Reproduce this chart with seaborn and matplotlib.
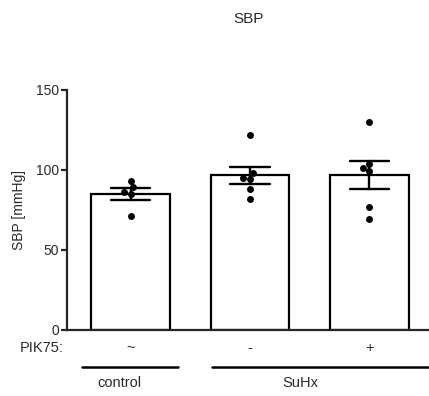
import pandas as pd
import matplotlib
matplotlib.use('Agg')
import matplotlib.pyplot as plt
import matplotlib.transforms as mtransforms
import seaborn as sns

# values
groups = ['control', 'SuHx -', 'SuHx +']
control_vals = [93, 89, 86, 85, 71]
suhx_vals = [122, 98, 95, 94, 88, 82]
suhx_pik_vals = [130, 103.5, 101, 99, 77, 69]
pik75_labels = ['~', '-', '+']
y_ticks = [0, 50, 100, 150]

df = pd.DataFrame({
    'group': [groups[0]] * len(control_vals) + [groups[1]] * len(suhx_vals) + [groups[2]] * len(suhx_pik_vals),
    'sbp': control_vals + suhx_vals + suhx_pik_vals,
})

sns.set_style('ticks')
plt.rcParams['font.family'] = ['Liberation Sans', 'DejaVu Sans']
txt_col = '#2b2b2b'

fig = plt.figure(figsize=(4.29, 3.96), dpi=100)
ax = fig.add_axes([0.157, 0.167, 0.843, 0.606])

sns.barplot(data=df, x='group', y='sbp', order=groups, errorbar='se', capsize=0.33,
            width=0.66, color='white', edgecolor='black', linewidth=1.6,
            err_kws={'color': 'black', 'linewidth': 1.7}, ax=ax)
sns.swarmplot(data=df, x='group', y='sbp', order=groups, color='black', size=5, ax=ax)

ax.set_ylim(0, 150)
ax.set_xlim(-0.53, 2.5)
ax.set_yticks(y_ticks)
ax.set_xticks([])
ax.set_xlabel('')
ax.set_ylabel('SBP [mmHg]', fontsize=10, color=txt_col, labelpad=7)
ax.tick_params(axis='y', labelsize=10, labelcolor=txt_col, width=1.6, length=4, pad=2)
ax.set_title('SBP', fontsize=11, color=txt_col, pad=48)
sns.despine(ax=ax)
ax.spines['left'].set_linewidth(1.6)
ax.spines['bottom'].set_linewidth(1.6)

# treatment row below the axis
tr = mtransforms.blended_transform_factory(ax.transData, ax.transAxes)
ax.text(-0.56, -0.075, 'PIK75:', transform=tr, ha='right', va='center', fontsize=10.5, color=txt_col)
for i, lab in enumerate(pik75_labels):
    ax.text(i, -0.075, lab, transform=tr, ha='center', va='center', fontsize=10.5, color=txt_col)

ax.plot([-0.41, 0.4], [-0.155, -0.155], transform=tr, color='black', lw=1.8, clip_on=False)
ax.plot([0.68, 2.5], [-0.155, -0.155], transform=tr, color='black', lw=1.8, clip_on=False)
ax.text(-0.09, -0.22, 'control', transform=tr, ha='center', va='center', fontsize=10.5, color=txt_col)
ax.text(1.42, -0.22, 'SuHx', transform=tr, ha='center', va='center', fontsize=10.5, color=txt_col)

fig.savefig('out.png', dpi=100)
